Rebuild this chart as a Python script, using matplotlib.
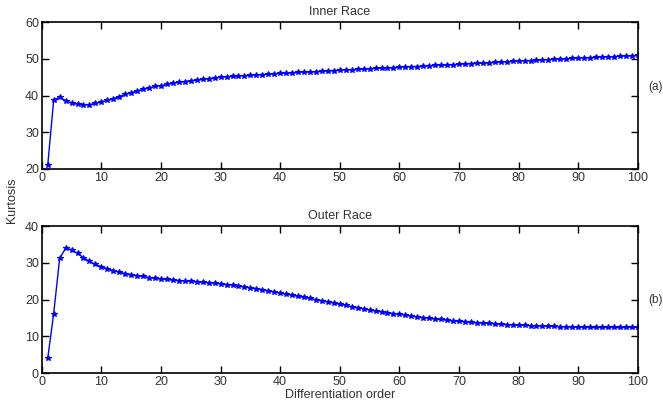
import numpy as np
import matplotlib
matplotlib.use('Agg')
from matplotlib import pyplot as plt

plt.rcParams['font.family'] = ['Liberation Sans Narrow', 'Liberation Sans', 'DejaVu Sans']

# 微分阶数 1..100
order = list(range(1, 101))

# 内圈故障峭度
inner_race = [
    21.0, 38.8, 39.5, 38.6, 38.0, 37.6, 37.5, 37.5, 37.9, 38.3,
    38.7, 39.1, 39.7, 40.3, 40.8, 41.2, 41.7, 42.1, 42.5, 42.7,
    43.0, 43.4, 43.6, 43.8, 44.0, 44.2, 44.4, 44.6, 44.8, 45.0,
    45.1, 45.2, 45.3, 45.4, 45.5, 45.6, 45.7, 45.8, 45.9, 46.0,
    46.1, 46.2, 46.3, 46.4, 46.4, 46.5, 46.6, 46.7, 46.8, 46.9,
    47.0, 47.0, 47.1, 47.2, 47.3, 47.4, 47.4, 47.5, 47.6, 47.7,
    47.8, 47.9, 47.9, 48.0, 48.1, 48.2, 48.3, 48.3, 48.4, 48.5,
    48.6, 48.7, 48.8, 48.8, 48.9, 49.0, 49.1, 49.2, 49.3, 49.4,
    49.5, 49.5, 49.6, 49.7, 49.8, 49.9, 49.9, 50.0, 50.1, 50.2,
    50.3, 50.3, 50.4, 50.5, 50.5, 50.6, 50.7, 50.8, 50.8, 50.9,
]

# 外圈故障峭度
outer_race = [
    4.0, 16.2, 31.2, 34.0, 33.6, 32.6, 31.4, 30.4, 29.6, 28.9,
    28.4, 27.9, 27.5, 27.1, 26.8, 26.5, 26.3, 26.0, 25.8, 25.6,
    25.5, 25.3, 25.2, 25.1, 25.0, 24.8, 24.7, 24.6, 24.5, 24.3,
    24.1, 23.9, 23.7, 23.5, 23.2, 23.0, 22.7, 22.4, 22.1, 21.8,
    21.5, 21.2, 20.9, 20.6, 20.3, 20.0, 19.7, 19.4, 19.1, 18.7,
    18.4, 18.1, 17.8, 17.5, 17.2, 16.9, 16.7, 16.4, 16.2, 16.0,
    15.8, 15.5, 15.3, 15.1, 14.9, 14.7, 14.6, 14.4, 14.2, 14.1,
    14.0, 13.8, 13.7, 13.6, 13.5, 13.4, 13.3, 13.2, 13.1, 13.0,
    13.0, 12.9, 12.8, 12.8, 12.7, 12.7, 12.6, 12.6, 12.5, 12.5,
    12.5, 12.4, 12.4, 12.4, 12.4, 12.4, 12.4, 12.4, 12.4, 12.4,
]

x_ticks = list(range(0, 101, 10))


def style_axes(ax, ylim, yticks, title):
    ax.set_xlim(0, 100)
    ax.set_ylim(*ylim)
    ax.set_xticks(x_ticks)
    ax.set_yticks(yticks)
    ax.tick_params(direction='in', top=True, right=True, length=5,
                   width=1, labelsize=9, labelcolor='#333333', pad=2)
    for sp in ax.spines.values():
        sp.set_linewidth(1.2)
    ax.set_title(title, fontsize=9, color='#333333', pad=5)


fig = plt.figure(figsize=(6.63, 4.09), dpi=100)
ax1 = fig.add_axes([0.063, 0.587, 0.899, 0.359])
ax2 = fig.add_axes([0.063, 0.088, 0.899, 0.359])

ax1.plot(order, inner_race, '-*', color='blue', lw=1, ms=4, mew=0.8)
style_axes(ax1, (20, 60), range(20, 61, 10), 'Inner Race')

ax2.plot(order, outer_race, '-*', color='blue', lw=1, ms=4, mew=0.8)
style_axes(ax2, (0, 40), range(0, 41, 10), 'Outer Race')
ax2.set_xlabel('Differentiation order', fontsize=9, color='#333333', labelpad=1)

fig.text(0.018, 0.51, 'Kurtosis', rotation=90, fontsize=9, color='#333333',
         ha='center', va='center')
fig.text(0.977, 0.787, '(a)', fontsize=8.5, color='#333333', ha='left', va='center')
fig.text(0.977, 0.267, '(b)', fontsize=8.5, color='#333333', ha='left', va='center')

fig.savefig('out.png', dpi=100)
